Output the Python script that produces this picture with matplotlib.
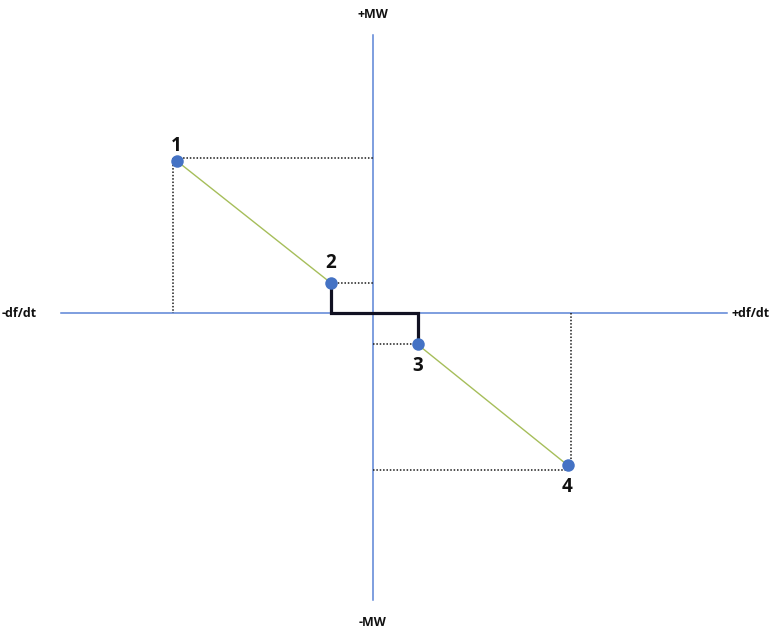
import matplotlib
matplotlib.use("Agg")
import matplotlib.pyplot as plt

# Data (arbitrary units: df/dt on x, MW on y)
point_labels = ["1", "2", "3", "4"]
dfdt = [-9.8, -2.1, 2.25, 9.75]
mw = [7.64, 1.54, -1.54, -7.58]
# guide (projection) lines as drawn
guide_x = [-9.98, -2.1, 2.25, 9.9]
guide_y = [7.78, 1.54, -1.54, -7.83]
# deadband step
step_x = [-2.1, -2.1, 2.25, 2.25]
step_y = [1.54, 0.0, 0.0, -1.54]

axis_labels = {"top": "+MW", "bottom": "-MW", "left": "-df/dt", "right": "+df/dt"}

fig = plt.figure(figsize=(7.72, 6.33), dpi=100)
ax = fig.add_axes([0, 0, 1, 1])
s = 20.0
ax.set_xlim(-372.5 / s, (772 - 372.5) / s)
ax.set_ylim(-(633 - 313.5) / s, 313.5 / s)
ax.axis("off")

blue = "#4472C4"
# axes lines
ax.plot([0, 0], [-14.3, 13.9], color="#5B84D6", lw=1.1, zorder=1)
ax.plot([-15.6, 17.7], [0, 0], color="#5B84D6", lw=1.1, zorder=1)

# dotted guide lines
dot = dict(color="#1a1a1a", lw=1.1, linestyle=(0, (1, 1.2)), zorder=2)
# point 1
ax.plot([guide_x[0], 0], [guide_y[0], guide_y[0]], **dot)
ax.plot([guide_x[0], guide_x[0]], [guide_y[0], 0], **dot)
# point 2
ax.plot([dfdt[1], 0], [guide_y[1], guide_y[1]], **dot)
# point 3
ax.plot([0, dfdt[2]], [guide_y[2], guide_y[2]], **dot)
# point 4
ax.plot([guide_x[3], guide_x[3]], [0, mw[3]], **dot)
ax.plot([0, dfdt[3]], [guide_y[3], guide_y[3]], **dot)

# droop lines
ax.plot(dfdt[0:2], mw[0:2], color="#A6BE5A", lw=1.0, zorder=3)
ax.plot(dfdt[2:4], mw[2:4], color="#A6BE5A", lw=1.0, zorder=3)

# deadband step
ax.plot(step_x, step_y, color="#111122", lw=2.3, zorder=4, solid_joinstyle="miter")

# points
ax.plot(dfdt, mw, "o", color=blue, markersize=9, zorder=5, markeredgewidth=0)

# point labels
offsets = [0.75, 1.0, -1.1, -1.08]
for lab, x, y, o in zip(point_labels, dfdt, mw, offsets):
    ax.text(x, y + o, lab, ha="center", va="center", fontsize=13.5,
            fontweight="bold", family="Open Sans", color="#111111")

# axis labels
fkw = dict(fontsize=9, fontweight="bold", family="Open Sans", color="#111111")
ax.text(0, (313.5 - 15) / s, axis_labels["top"], ha="center", va="center", **fkw)
ax.text(0, (313.5 - 622) / s, axis_labels["bottom"], ha="center", va="center", **fkw)
ax.text((2 - 372.5) / s, 0, axis_labels["left"], ha="left", va="center", **fkw)
ax.text((770 - 372.5) / s, 0, axis_labels["right"], ha="right", va="center", **fkw)

fig.savefig("out.png", dpi=100, facecolor="white")
